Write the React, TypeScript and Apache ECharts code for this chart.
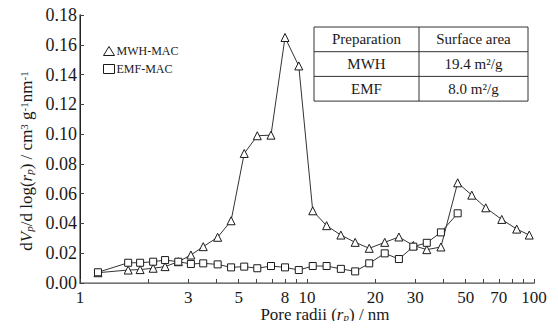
import React, { useEffect, useRef } from "react";
import * as echarts from "echarts";

const radii = [1.2, 1.63, 1.84, 2.1, 2.37, 2.71, 3.08, 3.49, 4.04, 4.63, 5.29, 6.04, 6.94, 8.0, 9.2, 10.6, 12.2, 14.1, 16.3, 18.8, 22.0, 25.4, 29.4, 33.7, 38.9, 46.1, 53.2, 61.3, 72.1, 83.9, 95.3];
const mwhValues = [0.0069, 0.0087, 0.009, 0.0099, 0.011, 0.0143, 0.0188, 0.0244, 0.0307, 0.0418, 0.087, 0.0989, 0.0993, 0.1649, 0.1458, 0.0485, 0.0385, 0.0322, 0.0273, 0.0233, 0.0273, 0.0309, 0.0252, 0.0224, 0.0242, 0.0673, 0.059, 0.0505, 0.0427, 0.0362, 0.0322];
const emfValues = [0.0072, 0.0136, 0.0136, 0.0143, 0.0154, 0.0143, 0.0128, 0.0132, 0.0125, 0.0105, 0.011, 0.0099, 0.0114, 0.0105, 0.0087, 0.0114, 0.0114, 0.0095, 0.0078, 0.0132, 0.0199, 0.0161, 0.0244, 0.027, 0.034, 0.0468];
const xTickValues = [1, 2, 3, 4, 5, 6, 7, 8, 9, 10, 20, 30, 40, 50, 60, 70, 80, 90, 100];
const xLabelValues = [1, 3, 5, 8, 10, 20, 30, 50, 70, 100];
const seriesNames = ["MWH-MAC", "EMF-MAC"];
const tableHeader = ["Preparation", "Surface area"];
const tableRows = [
  ["MWH", "19.4 m²/g"],
  ["EMF", "8.0 m²/g"],
];

const FONT = "Liberation Serif";
const INK = "#1a1a1a";

export default function App() {
  const ref = useRef<HTMLDivElement>(null);
  useEffect(() => {
    if (!ref.current) return;
    const chart = echarts.init(ref.current, undefined, { renderer: "svg" });
    const toData = (vals: number[]) => vals.map((v, i) => [Math.log10(radii[i]), v]);

    const markerStyle = { color: "#fff", borderColor: INK, borderWidth: 1 };

    const tableX0 = 314, tableX1 = 528, tableY0 = 27, rowH = 24.7, colX = 419;
    const tableEls: any[] = [
      { type: "rect", shape: { x: tableX0, y: tableY0, width: tableX1 - tableX0, height: rowH * 3 }, style: { fill: "#fff", stroke: "#333", lineWidth: 1 } },
      { type: "line", shape: { x1: tableX0, y1: tableY0 + rowH, x2: tableX1, y2: tableY0 + rowH }, style: { stroke: "#333", lineWidth: 1 } },
      { type: "line", shape: { x1: tableX0, y1: tableY0 + rowH * 2, x2: tableX1, y2: tableY0 + rowH * 2 }, style: { stroke: "#333", lineWidth: 1 } },
      { type: "line", shape: { x1: colX, y1: tableY0, x2: colX, y2: tableY0 + rowH * 3 }, style: { stroke: "#333", lineWidth: 1 } },
    ];
    const allRows = [tableHeader, ...tableRows];
    allRows.forEach((row, r) => {
      row.forEach((cell, c) => {
        tableEls.push({
          type: "text",
          x: c === 0 ? (tableX0 + colX) / 2 : (colX + tableX1) / 2,
          y: tableY0 + rowH * r + rowH / 2,
          style: { text: cell, fontFamily: FONT, fontSize: 15, fill: INK, align: "center", verticalAlign: "middle" },
        });
      });
    });

    const richBase = {
      a: { fontFamily: FONT, fontSize: 17, fill: INK, lineHeight: 16 },
      i: { fontFamily: FONT, fontSize: 17, fontStyle: "italic", fill: INK, lineHeight: 16 },
      sub: { fontFamily: FONT, fontSize: 11, fontStyle: "italic", fill: INK, verticalAlign: "bottom", lineHeight: 9 },
      sup: { fontFamily: FONT, fontSize: 11, fill: INK, verticalAlign: "top", lineHeight: 9 },
    };

    chart.setOption({
      animation: false,
      backgroundColor: "#fff",
      textStyle: { fontFamily: FONT },
      grid: { left: 80, right: 24, top: 15, bottom: 46 },
      legend: {
        orient: "vertical",
        left: 98,
        top: 40,
        itemWidth: 11,
        itemHeight: 9,
        itemGap: 6,
        textStyle: { fontFamily: FONT, fontSize: 12, color: INK, padding: [0, 0, 0, -3] },
        data: [
          { name: seriesNames[0], icon: "triangle", itemStyle: markerStyle },
          { name: seriesNames[1], icon: "rect", itemStyle: markerStyle },
        ],
      },
      xAxis: [
        {
          type: "value",
          min: 0,
          max: 2,
          axisLine: { lineStyle: { color: "#444", width: 1 } },
          axisTick: { inside: true, length: 4, customValues: xTickValues.map((v) => Math.log10(v)), lineStyle: { color: "#444" } },
          axisLabel: {
            customValues: xLabelValues.map((v) => Math.log10(v)),
            formatter: (v: number) => String(Math.round(Math.pow(10, v))),
            fontFamily: FONT,
            fontSize: 17,
            lineHeight: 15,
            color: INK,
            margin: 7,
          },
          splitLine: { show: false },
        },
        {
          type: "value",
          position: "top",
          min: 0,
          max: 2,
          axisLine: { show: true, lineStyle: { color: "#888", width: 1.5 } },
          axisTick: { show: false },
          axisLabel: { show: false },
          splitLine: { show: false },
        },
      ],
      yAxis: [
        {
          type: "value",
          min: 0,
          max: 0.18,
          interval: 0.02,
          axisLine: { show: true, lineStyle: { color: "#666", width: 1.5 } },
          axisTick: { show: true, inside: true, length: 4, lineStyle: { color: "#444" } },
          axisLabel: {
            formatter: (v: number) => v.toFixed(2),
            fontFamily: FONT,
            fontSize: 18,
            color: INK,
            margin: 3,
          },
          splitLine: { show: false },
        },
        {
          type: "value",
          position: "right",
          min: 0,
          max: 0.18,
          interval: 0.02,
          axisLine: { show: true, lineStyle: { color: "#222", width: 1 } },
          axisTick: { show: false },
          axisLabel: { show: false },
          splitLine: { show: false },
        },
      ],
      series: [
        {
          name: seriesNames[0],
          type: "line",
          data: toData(mwhValues),
          symbol: "triangle",
          symbolSize: 8,
          showAllSymbol: true,
          lineStyle: { color: "#333", width: 1 },
          itemStyle: markerStyle,
        },
        {
          name: seriesNames[1],
          type: "line",
          data: toData(emfValues),
          symbol: "rect",
          symbolSize: 7,
          showAllSymbol: true,
          lineStyle: { color: "#333", width: 1 },
          itemStyle: markerStyle,
        },
      ],
      graphic: [
        ...tableEls,
        {
          type: "text",
          x: 26,
          y: 161,
          rotation: Math.PI / 2,
          style: {
            text: "{a|d}{i|V}{sub|p}{a|/d log(}{i|r}{sub|p}{a|) / cm}{sup|3}{a| g}{sup|-1}{a|nm}{sup|-1}",
            rich: richBase,
            align: "center",
            verticalAlign: "middle",
          },
        },
        {
          type: "text",
          x: 325,
          y: 314,
          style: {
            text: "{a|Pore radii (}{i|r}{sub|p}{a|) / nm}",
            rich: richBase,
            align: "center",
            verticalAlign: "middle",
          },
        },
      ],
    });
    return () => chart.dispose();
  }, []);
  return <div ref={ref} style={{ width: 558, height: 329, margin: -8 }} />;
}
